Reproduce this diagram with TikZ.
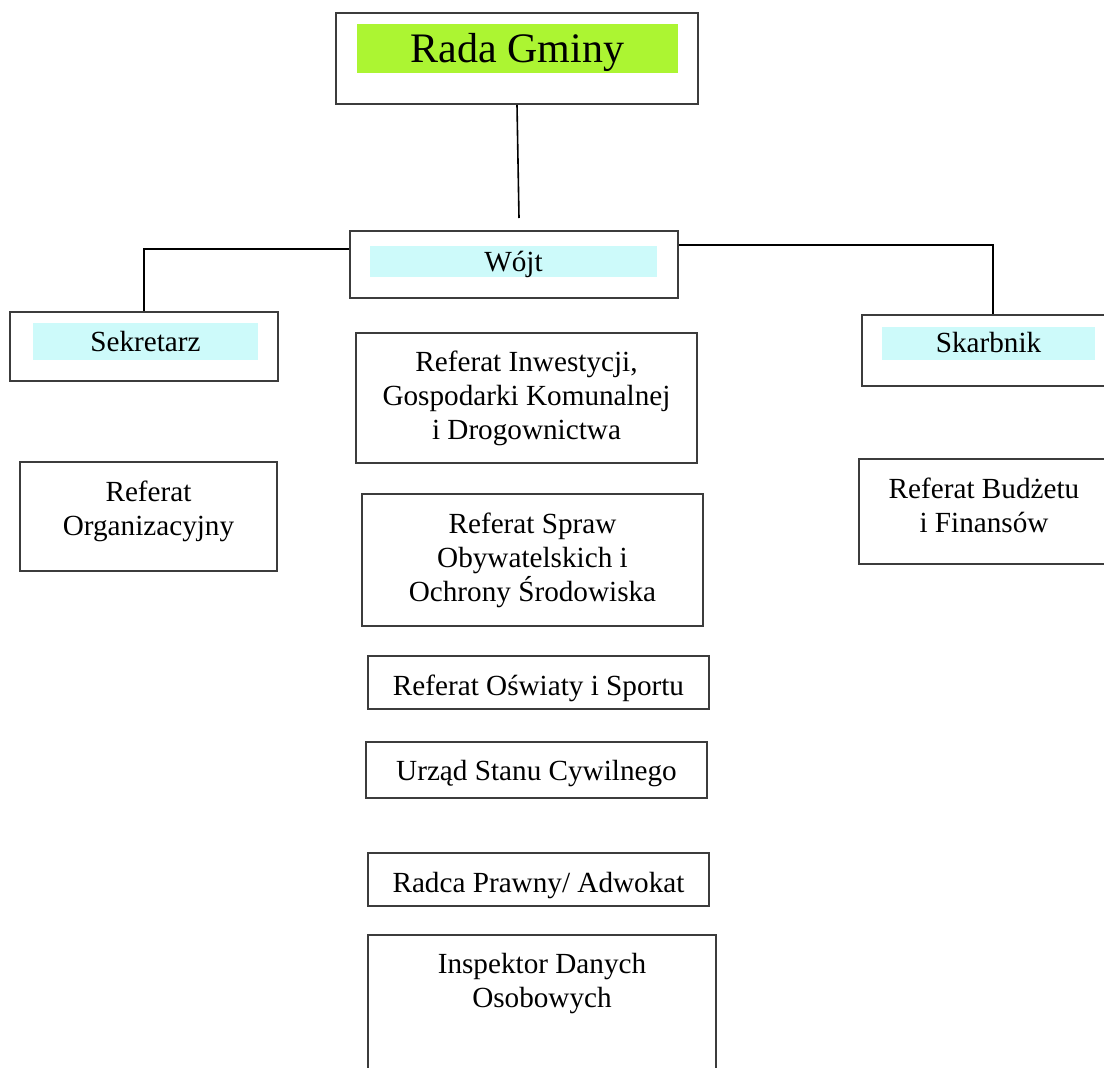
\documentclass[tikz,border=0pt]{standalone}
\usepackage{fontspec}
\setmainfont{Liberation Serif}
\usepackage{tikz}
\definecolor{ramka}{RGB}{60,60,60}
\definecolor{zielony}{RGB}{172,245,50}
\definecolor{blekit}{RGB}{205,250,250}

\begin{document}
\begin{tikzpicture}[x=0.5pt,y=-0.5pt,
    box/.style={draw=ramka,line width=0.8pt,inner sep=0pt,align=center,font=\fontsize{14.6}{17}\selectfont},
    tlo/.style={inner sep=0pt,align=center,font=\fontsize{14.6}{17}\selectfont},
    wiersz/.style={text height=11.5pt,text depth=1.5pt},
    linia/.style={line width=0.8pt,black}]
    \useasboundingbox (0,0) rectangle (1104,1067);
    \clip (0,0) rectangle (1104,1067);

    \node[box,minimum width=181pt,minimum height=45.5pt] (rada) at (517,58.5) {};
    \node[tlo,fill=zielony,minimum width=160.5pt,minimum height=24.5pt,text height=16pt,text depth=2.5pt,font=\fontsize{21}{24}\selectfont] (radatxt) at (517.5,48.5) {Rada Gminy};

    \node[box,minimum width=164pt,minimum height=33.5pt] (wojt) at (514,264.5) {};
    \node[tlo,wiersz,fill=blekit,minimum width=143.5pt,minimum height=15.5pt] (wojttxt) at (513.5,261.5) {Wójt};

    \node[box,minimum width=134pt,minimum height=34.5pt] (sekretarz) at (144,346.5) {};
    \node[tlo,wiersz,fill=blekit,minimum width=112.5pt,minimum height=18.5pt] (sekretarztxt) at (145.5,341.5) {Sekretarz};

    \node[box,minimum width=131pt,minimum height=35.5pt] (skarbnik) at (993,350.5) {};
    \node[tlo,text height=10.5pt,text depth=1.5pt,fill=blekit,minimum width=106.5pt,minimum height=16.5pt] (skarbniktxt) at (988.5,343.5) {Skarbnik};

    \node[box,minimum width=170.5pt,minimum height=65pt] (inwestycje) at (526.5,398) {Referat Inwestycji,\\Gospodarki Komunalnej\\i Drogownictwa};
    \node[box,minimum width=170.5pt,minimum height=66pt] (sprawy) at (532.5,560) {Referat Spraw\\Obywatelskich i\\Ochrony Środowiska};
    \node[box,text height=13.5pt,text depth=0.5pt,minimum width=170.5pt,minimum height=26.5pt] (oswiata) at (538.5,682.5) {Referat Oświaty i Sportu};
    \node[box,text height=11pt,text depth=1pt,minimum width=170.5pt,minimum height=28pt] (usc) at (536.5,770) {Urząd Stanu Cywilnego};
    \node[box,text height=13.5pt,text depth=0.5pt,minimum width=170.5pt,minimum height=26.5pt] (radca) at (538.5,879.5) {Radca Prawny/ Adwokat};
    \node[box,minimum width=174pt,minimum height=75pt,
        label={[tlo,anchor=north,yshift=-9.5pt]north:Inspektor Danych\\Osobowych}] (inspektor) at (542,1010) {};

    \node[box,minimum width=128.5pt,minimum height=54.5pt,
        label={[tlo,yshift=2.5pt]center:Referat\\Organizacyjny}] (organizacyjny) at (148.5,516.5) {};
    \node[box,minimum width=128pt,minimum height=52.5pt,
        label={[tlo,xshift=-1.5pt,yshift=3.25pt]center:Referat Budżetu\\i Finansów}] (budzet) at (987,511.5) {};

    \coordinate (radadol) at (519,218);
    \draw[linia] (rada.south) -- (radadol);
    \draw[linia] ([yshift=7.75pt]wojt.west) -| (sekretarz.north);
    \draw[linia] ([yshift=9.75pt]wojt.east) -| (skarbnik.north);

\end{tikzpicture}
\end{document}
